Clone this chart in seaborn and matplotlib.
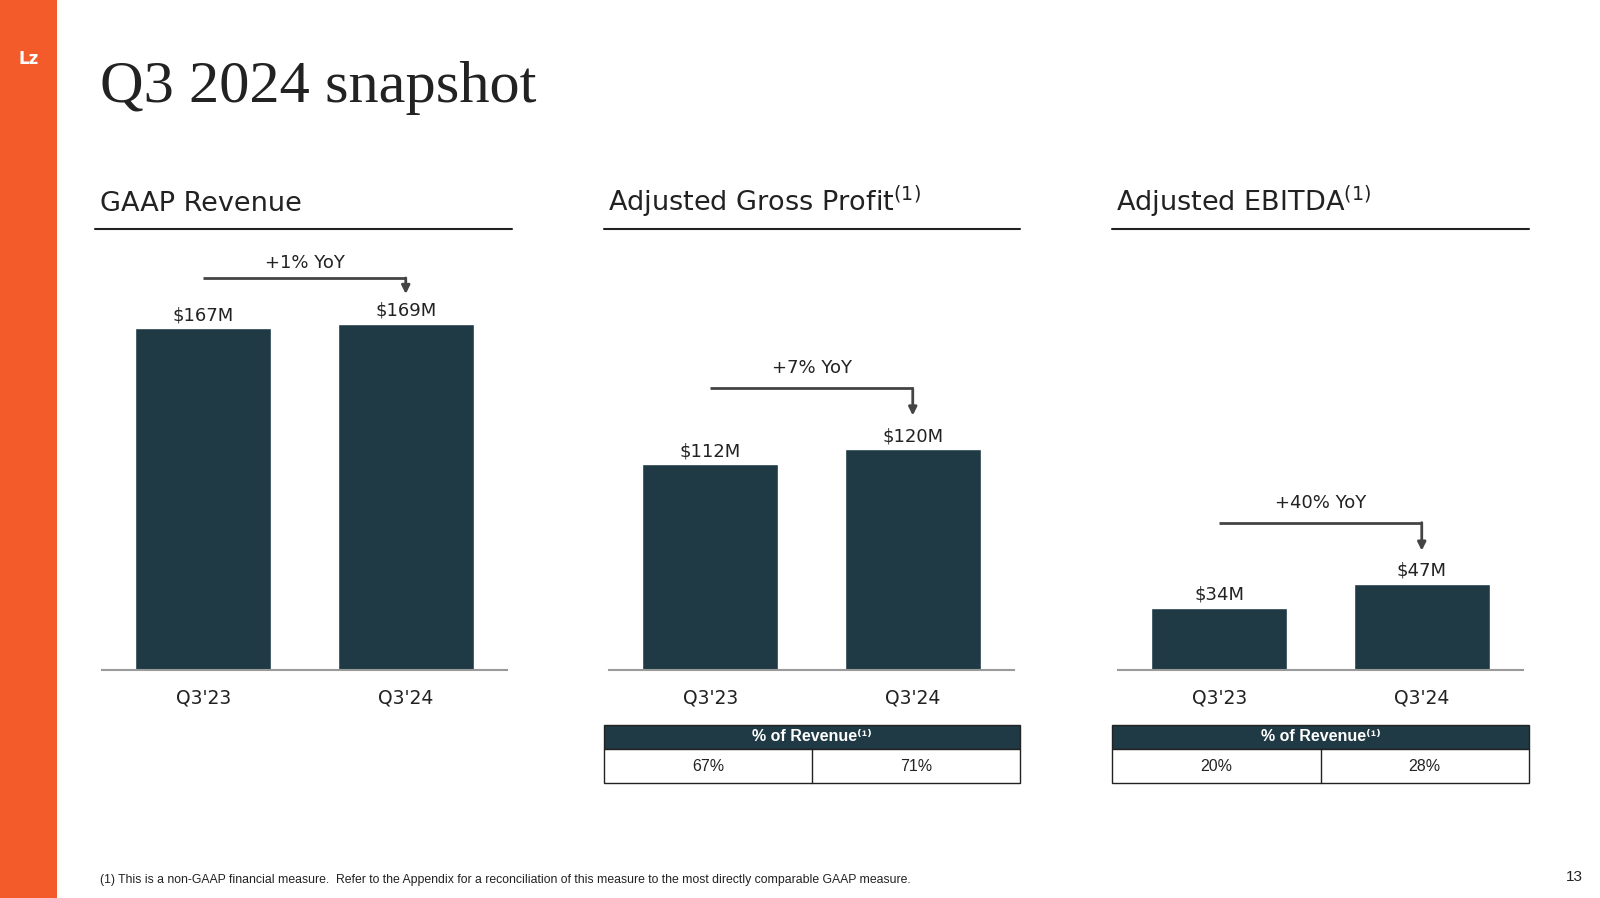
import numpy as np
import pandas as pd
import matplotlib.pyplot as plt
import matplotlib.patches as mpatches
from matplotlib.transforms import offset_copy
import seaborn as sns

# ---- data ----
periods = ["Q3'23", "Q3'24"]
revenue = [167, 169]
gross_profit = [112, 120]
ebitda = [34, 47]
value_labels = [["$167M", "$169M"], ["$112M", "$120M"], ["$34M", "$47M"]]
yoy_labels = ["+1% YoY", "+7% YoY", "+40% YoY"]
panel_titles = ["GAAP Revenue", "Adjusted Gross Profit$^{(1)}$", "Adjusted EBITDA$^{(1)}$"]
pct_of_revenue_gp = ["67%", "71%"]
pct_of_revenue_ebitda = ["20%", "28%"]

ORANGE = '#F35B2B'
BAR = '#1F3A44'
DARK = '#222222'

sns.set_theme(style='white')
plt.rcParams['font.family'] = ['DejaVu Sans']
plt.rcParams['mathtext.fontset'] = 'dejavusans'

W, H = 1600, 898
fig = plt.figure(figsize=(W / 100, H / 100), dpi=100)
fig.patch.set_facecolor('white')


def fx(px):
    return px / W


def fy(py):
    return 1 - py / H


# orange sidebar + logo
fig.patches.append(mpatches.Rectangle((0, 0), fx(57), 1, transform=fig.transFigure,
                                      facecolor=ORANGE, edgecolor='none', zorder=0))
fig.text(fx(29), fy(59), 'Lz', color='white', fontsize=12, fontweight='bold',
         ha='center', va='center')

# title
fig.text(fx(100), fy(102), 'Q3 2024 snapshot', family='Liberation Serif',
         fontsize=43.5, color=DARK, ha='left', va='baseline')

# panel layout (pixels)
axes_left = [102, 609, 1118]
head_left = [100, 608, 1116]
rule_span = [(95, 512), (604, 1020), (1112, 1529)]
ytops = [210, 234, 234]
line_off = [46, 61, 61]
tip_off = [30, 34, 33]
text_off = [10, 15, 15]
series = [revenue, gross_profit, ebitda]

for i in range(3):
    ax = fig.add_axes([fx(axes_left[i]), fy(670), 405 / W, 430 / H])
    df = pd.DataFrame({'period': periods, 'value': series[i]})
    sns.barplot(data=df, x='period', y='value', ax=ax, color=BAR,
                saturation=1, width=0.67)
    ax.set_xlim(-0.5, 1.5)
    ax.set_ylim(0, ytops[i])
    ax.set_xlabel('')
    ax.set_ylabel('')
    ax.set_yticks([])
    for s in ['top', 'right', 'left']:
        ax.spines[s].set_visible(False)
    ax.spines['bottom'].set_color('#9a9a9a')
    ax.spines['bottom'].set_linewidth(1.5)
    ax.tick_params(axis='x', length=0, pad=13, labelsize=13.5, labelcolor=DARK)
    ax.set_facecolor('white')

    vals = series[i]
    for j, v in enumerate(vals):
        ax.annotate(value_labels[i][j], xy=(j, v), xytext=(0, 8),
                    textcoords='offset pixels', ha='center', va='baseline',
                    fontsize=13, color=DARK)

    top = vals[1]
    t_line = offset_copy(ax.transData, fig=fig, y=line_off[i], units='dots')
    t_tip = offset_copy(ax.transData, fig=fig, y=tip_off[i], units='dots')
    ax.plot([0, 1], [top, top], transform=t_line, color='#444444', lw=2.0,
            solid_capstyle='butt', clip_on=False)
    ax.annotate('', xy=(1, top), xycoords=t_tip, xytext=(1, top), textcoords=t_line,
                arrowprops=dict(arrowstyle='-|>', color='#444444', lw=2.0,
                                mutation_scale=12, shrinkA=0, shrinkB=0),
                annotation_clip=False)
    ax.annotate(yoy_labels[i], xy=(0.5, top), xytext=(0, line_off[i] + text_off[i]),
                textcoords='offset pixels', ha='center', va='baseline',
                fontsize=13, color=DARK, annotation_clip=False)

    # heading and rule
    fig.text(fx(head_left[i]), fy(211), panel_titles[i], fontsize=19.5,
             color=DARK, ha='left', va='baseline')
    x0, x1 = rule_span[i]
    fig.add_artist(plt.Line2D([fx(x0), fx(x1)], [fy(229), fy(229)],
                              transform=fig.transFigure, color=DARK, lw=1.5))

# % of revenue tables
for (x0, x1), pcts in zip([rule_span[1], rule_span[2]],
                          [pct_of_revenue_gp, pct_of_revenue_ebitda]):
    tax = fig.add_axes([fx(x0), fy(783), (x1 - x0) / W, (783 - 724.5) / H])
    tax.set_xlim(0, 2)
    tax.set_ylim(0, 1)
    tax.axis('off')
    hdr = 0.58
    tax.add_patch(mpatches.Rectangle((0, hdr), 2, 1 - hdr, facecolor=BAR,
                                     edgecolor=DARK, lw=1.0, clip_on=False))
    tax.add_patch(mpatches.Rectangle((0, 0), 2, hdr, facecolor='white',
                                     edgecolor=DARK, lw=1.0, clip_on=False))
    tax.plot([1, 1], [0, hdr], color=DARK, lw=1.0, clip_on=False)
    tax.text(1, hdr + (1 - hdr) / 2, '% of Revenue⁽¹⁾', color='white',
             fontsize=11.5, fontweight='bold', ha='center', va='center',
             family=['Liberation Sans', 'DejaVu Sans'])
    for k, p in enumerate(pcts):
        tax.text(k + 0.5, hdr / 2, p, color=DARK, fontsize=11.5, ha='center',
                 va='center', family=['Liberation Sans', 'DejaVu Sans'])

# footnote and page number
fig.text(fx(100), fy(883),
         '(1) This is a non-GAAP financial measure.  Refer to the Appendix for a '
         'reconciliation of this measure to the most directly comparable GAAP measure.',
         fontsize=8.8, color=DARK, ha='left', va='baseline', family='Liberation Sans')
fig.text(fx(1583), fy(881), '13', fontsize=11, color=DARK, ha='right',
         va='baseline', family='Liberation Sans')

fig.savefig('out.png', dpi=100)
